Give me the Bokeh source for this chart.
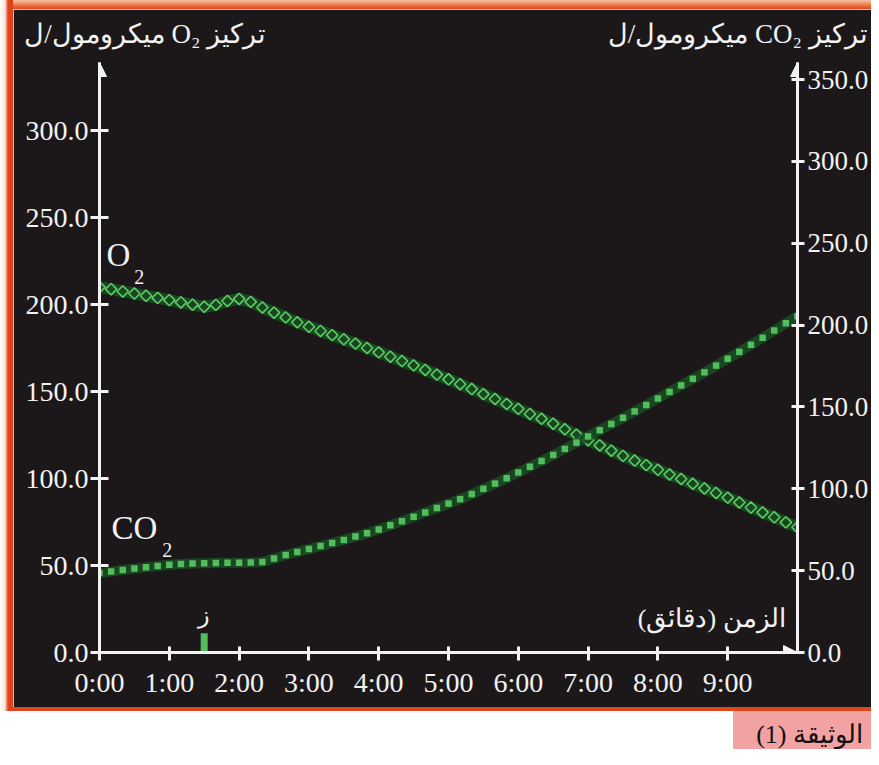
from bokeh.plotting import figure
from bokeh.layouts import row, column
from bokeh.models import (Range1d, LinearAxis, FixedTicker, PrintfTickFormatter,
                          Label, Arrow, NormalHead, Div)
from bokeh.embed import file_html
from bokeh.resources import INLINE

# ---------------- data ----------------
time_s = [0, 10, 20, 30, 40, 50, 60, 70, 80, 90, 100, 110, 120, 130, 140, 150,
          160, 170, 180, 190, 200, 210, 220, 230, 240, 250, 260, 270, 280, 290,
          300, 310, 320, 330, 340, 350, 360, 370, 380, 390, 400, 410, 420, 430,
          440, 450, 460, 470, 480, 490, 500, 510, 520, 530, 540, 550, 560, 570,
          580, 590, 600]

o2 = [210.0, 208.8, 207.5, 206.3, 205.0, 203.8, 202.5, 201.2, 199.9, 198.7,
      199.8, 202.0, 203.2, 201.5, 198.3, 195.3, 192.6, 189.8, 187.2, 184.8,
      182.4, 180.0, 177.5, 175.0, 172.5, 170.0, 167.5, 165.0, 162.4, 159.7,
      157.0, 154.2, 151.4, 148.5, 145.7, 142.8, 140.0, 137.1, 134.3, 131.5,
      128.3, 125.2, 122.0, 119.0, 116.0, 113.0, 110.3, 107.7, 105.0, 102.3,
      99.7, 97.0, 94.3, 91.7, 89.0, 86.2, 83.3, 80.5, 77.7, 74.8, 72.0]

co2 = [48.5, 49.5, 50.4, 51.3, 52.1, 52.9, 53.6, 54.1, 54.4, 54.6,
       54.7, 54.8, 54.9, 55.0, 55.3, 57.5, 59.6, 61.4, 63.2, 65.0,
       66.9, 68.8, 70.8, 72.8, 75.2, 77.7, 80.2, 82.9, 85.6, 88.3,
       91.0, 93.7, 96.8, 100.0, 103.2, 106.5, 110.0, 113.5, 117.0, 120.7,
       124.4, 128.2, 132.0, 135.8, 139.6, 143.4, 147.3, 151.2, 155.2, 159.2,
       163.2, 167.2, 171.2, 175.3, 179.5, 183.7, 188.0, 192.3, 196.7, 201.1,
       205.5]

x_ticks = [0, 1, 2, 3, 4, 5, 6, 7, 8, 9]
x_tick_labels = ["0:00", "1:00", "2:00", "3:00", "4:00", "5:00", "6:00",
                 "7:00", "8:00", "9:00"]
o2_ticks = [0, 50, 100, 150, 200, 250, 300]
co2_ticks = [0, 50, 100, 150, 200, 250, 300, 350]
x_max = 10
marker_time = [1.5]
marker_label = "ز"
o2_title = "\u202bتركيز O\u2082 ميكرومول/ل\u202c"
co2_title = "\u202bتركيز CO\u2082 ميكرومول/ل\u202c"
time_label = "\u200fالزمن (دقائق)\u200f"
doc_label = "الوثيقة (1)"

minutes = [t / 60 for t in time_s]

# ---------------- style ----------------
BG = "#1c1819"
FG = "#f2f2f2"
ORANGE = "#e0461c"
HALO = "#1a4d23"
G_O2 = "#5ccd64"
G_CO2 = "#52bd5c"
PINK = "#f2a2a2"
SERIF = "Liberation Serif"

PX_X = 70.1      # px per minute
PX_L = 1.74      # px per unit, O2 axis
PX_R = 1.6367    # px per unit, CO2 axis
FRAME_H = 590


def cx(px):
    return (px - 99) / PX_X


def cy(py):
    return (652 - py) / PX_L


p = figure(width=858, height=698,
           x_range=Range1d(0, x_max), y_range=Range1d(0, FRAME_H / PX_L),
           output_backend="svg", toolbar_location=None,
           min_border_left=86, min_border_right=71, min_border_top=53,
           min_border_bottom=55, background_fill_color=BG, border_fill_color=BG,
           outline_line_color=BG, outline_line_width=3)
p.extra_y_ranges = {"co2": Range1d(0, FRAME_H / PX_R)}
p.grid.visible = False


def style(ax, tin, tout, standoff, size):
    ax.axis_line_color = FG
    ax.axis_line_width = 3
    ax.major_tick_line_color = FG
    ax.major_tick_line_width = 3
    ax.major_tick_in = tin
    ax.major_tick_out = tout
    ax.minor_tick_line_color = None
    ax.major_label_text_color = FG
    ax.major_label_text_font = SERIF
    ax.major_label_text_font_size = f"{size}px"
    ax.major_label_standoff = standoff


xa = p.xaxis[0]
xa.ticker = FixedTicker(ticks=x_ticks)
xa.major_label_overrides = {t: l for t, l in zip(x_ticks, x_tick_labels)}
style(xa, 6, 8, 6, 28)

ya = p.yaxis[0]
ya.ticker = FixedTicker(ticks=o2_ticks)
ya.formatter = PrintfTickFormatter(format="%.1f")
style(ya, 9, 9, 2, 28)

ra = LinearAxis(y_range_name="co2", ticker=FixedTicker(ticks=co2_ticks),
                formatter=PrintfTickFormatter(format="%.1f"))
style(ra, 6, 7, 3, 27)
p.add_layout(ra, "right")

# axis titles: drawn as labels of a line-less axis above the frame
t_left, t_right = cx(145), cx(740)
ta = LinearAxis(ticker=FixedTicker(ticks=[t_left, t_right]),
                major_label_overrides={t_left: o2_title, t_right: co2_title})
style(ta, 0, 0, 14, 27)
ta.axis_line_color = None
ta.major_tick_line_color = None
p.add_layout(ta, "above")

# series
p.line(minutes, o2, line_color=HALO, line_width=12, line_alpha=0.85)
p.scatter(minutes, o2, marker="square", angle=0.7854, size=8,
          fill_color=None, line_color=G_O2, line_width=1.6)

p.line(minutes, co2, y_range_name="co2", line_color=HALO, line_width=10, line_alpha=0.85)
p.scatter(minutes, co2, y_range_name="co2", marker="square", size=6.5,
          fill_color=G_CO2, line_color=None)

p.segment(x0=marker_time, y0=[0], x1=marker_time, y1=[11],
          line_width=7, line_color=G_CO2)

# axis arrows
top = FRAME_H / PX_L
for xs, ys, xe, ye in [(0, top - 20, 0, top), (x_max, top - 20, x_max, top),
                       (x_max - 0.4, 0, x_max, 0)]:
    p.add_layout(Arrow(end=NormalHead(size=14, fill_color=FG, line_color=FG, line_width=1),
                       x_start=xs, y_start=ys, x_end=xe, y_end=ye,
                       line_color=FG, line_width=3))


def lab(f, x, y, text, size, align="left", baseline="middle", color=FG, font=SERIF):
    f.add_layout(Label(x=x, y=y, text=text, text_font=font,
                       text_font_size=f"{size}px", text_color=color,
                       text_align=align, text_baseline=baseline))


lab(p, cx(106), cy(254), "O", 33)
lab(p, cx(134), cy(276), "2", 20)
lab(p, cx(111), cy(527), "CO", 33)
lab(p, cx(162), cy(549), "2", 20)
lab(p, cx(788), cy(618), time_label, 26, align="right")
lab(p, marker_time[0], cy(614), marker_label, 24, align="center")

# ---------------- frame decorations (plain HTML blocks) ----------------
top_strip = Div(width=858, height=9, margin=0,
                styles={"background": "linear-gradient(to bottom, #f7c4a4, #ec7a4a 55%, #d9441c)"})
left_strip = Div(width=13, height=711, margin=0,
                 styles={"background": "linear-gradient(to right, #ffffff 0px, #fbe2da 5px, "
                                       "#e0461c 8px, #d8401a 13px)"})
footer_html = (
    '<div style="position:relative;width:858px;height:42px;background:#ffffff;overflow:hidden;">'
    f'<div style="position:absolute;left:0;top:0;width:858px;height:4px;background:{ORANGE};"></div>'
    f'<div style="position:absolute;left:720px;top:4px;width:138px;height:38px;background:{PINK};"></div>'
    '<div dir="rtl" style="position:absolute;right:8px;top:12px;height:32px;line-height:32px;'
    f'font-family:\'{SERIF}\';font-size:26px;color:#111111;white-space:nowrap;">{doc_label}</div>'
    '</div>'
)
footer = Div(text=footer_html, width=858, height=42, margin=0)

layout = row(left_strip, column(top_strip, p, footer, spacing=0), spacing=0)

open("out.html", "w").write(file_html(layout, INLINE))
